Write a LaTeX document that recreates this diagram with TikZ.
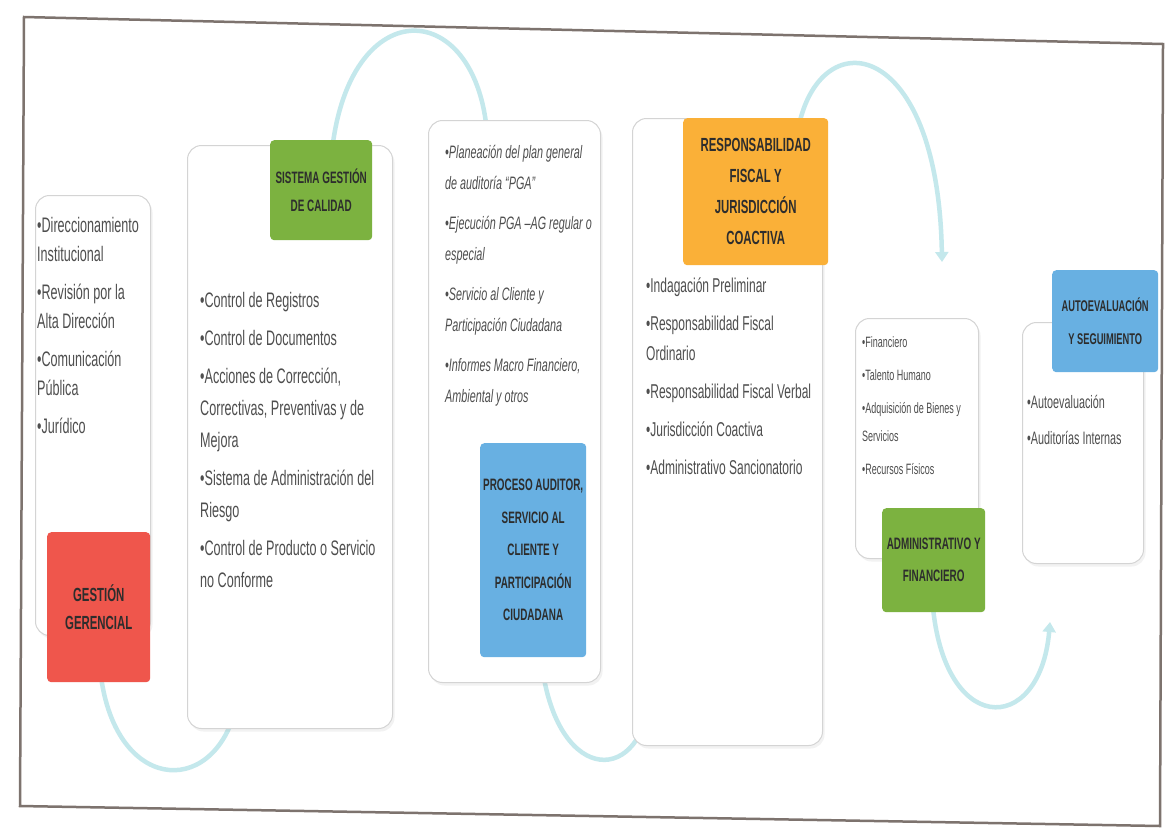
\documentclass[tikz,border=0pt]{standalone}
\usepackage{fontspec}
\usepackage{xcolor}
\usepackage{tikz}
\usetikzlibrary{arrows.meta,shadows}

\newfontfamily\narrowfont[FakeStretch=0.6]{Liberation Sans}

\definecolor{wavecyan}{RGB}{196,232,236}
\definecolor{framegray}{RGB}{125,115,110}
\definecolor{panelgray}{RGB}{212,212,212}
\definecolor{tagred}{RGB}{239,86,76}
\definecolor{taggreen}{RGB}{124,178,64}
\definecolor{tagblue}{RGB}{104,176,226}
\definecolor{tagorange}{RGB}{250,176,56}
\definecolor{inkgray}{RGB}{78,78,78}
\definecolor{tagink}{RGB}{45,45,45}

\tikzset{
  panel/.style={draw=panelgray, fill=white, line width=1pt, rounded corners=14pt,
    anchor=north west, inner sep=0pt,
    drop shadow={opacity=0.10, shadow xshift=2pt, shadow yshift=-3pt}},
  tagbox/.style={fill=#1, rounded corners=4pt, anchor=north west, inner sep=2pt,
    align=center, text=tagink, font=\narrowfont\bfseries\fontsize{16.5}{30}\selectfont},
  items/.style={anchor=north west, inner sep=0pt, align=left, text=inkgray},
  wavepath/.style={draw=wavecyan, line width=4.5pt, line cap=round},
  waveend/.style={wavepath, -{Triangle[width=13pt,length=10pt]}}
}

\begin{document}
\begin{tikzpicture}[x=1pt, y=-1pt]
             \useasboundingbox (0,0) rectangle (1169,831);
             \fill[white] (0,0) rectangle (1169,831);
             \draw[framegray, line width=2.5pt] (24,17) -- (1163,44) -- (1160,826) -- (20,806) -- cycle;

             % wave behind the panels
             \coordinate (w1a) at (100,668);
             \coordinate (w1b) at (238,700);
             \coordinate (w2a) at (330,180);
             \coordinate (w2b) at (488,150);
             \coordinate (w3a) at (540,645);
             \coordinate (w3b) at (650,700);
             \coordinate (w4a) at (795,160);
             \coordinate (w4b) at (942,262);
             \coordinate (w5a) at (932,595);
             \coordinate (w5b) at (1050,622);
             \draw[waveend] (w1a) .. controls (112,792) and (212,800) .. (w1b);
             \draw[waveend] (w2a) .. controls (335,-12) and (480,-12) .. (w2b);
             \draw[waveend] (w3a) .. controls (548,778) and (632,790) .. (w3b);
             \draw[waveend] (w4a) .. controls (798,18) and (938,18) .. (w4b);
             \draw[waveend] (w5a) .. controls (940,738) and (1040,738) .. (w5b);

             \node[panel, minimum width=115, minimum height=440] (gerencia) at (35,195) {};
             \node[panel, minimum width=205, minimum height=583] (calidad) at (187,145) {};
             \node[panel, minimum width=172, minimum height=562] (auditor) at (428,120) {};
             \node[panel, minimum width=190, minimum height=627] (fiscal) at (632,118) {};
             \node[panel, minimum width=123, minimum height=240] (admin) at (855,318) {};
             \node[panel, minimum width=121, minimum height=241] (autoeval) at (1022,322) {};

             \node[items, font=\narrowfont\fontsize{21}{29}\selectfont] (lgerencia) at (37,217)
               {•Direccionamiento\\Institucional\\[9pt]•Revisión por la\\Alta Dirección\\[9pt]•Comunicación\\Pública\\[9pt]•Jurídico};
             \node[items, font=\narrowfont\fontsize{21}{32}\selectfont] (lcalidad) at (200,292)
               {•Control de Registros\\[6pt]•Control de Documentos\\[6pt]•Acciones de Corrección,\\Correctivas, Preventivas y de\\Mejora\\[6pt]•Sistema de Administración del\\Riesgo\\[6pt]•Control de Producto o Servicio\\no Conforme};
             \node[items, font=\narrowfont\itshape\fontsize{18}{31}\selectfont] (lauditor) at (445,145)
               {•Planeación del plan general\\de auditoría “PGA”\\[9pt]•Ejecución PGA –AG regular o\\especial\\[9pt]•Servicio al Cliente y\\Participación Ciudadana\\[9pt]•Informes Macro Financiero,\\Ambiental y otros};
             \node[items, font=\narrowfont\fontsize{20}{30}\selectfont] (lfiscal) at (646,278)
               {•Indagación Preliminar\\[8pt]•Responsabilidad Fiscal\\Ordinario\\[8pt]•Responsabilidad Fiscal Verbal\\[8pt]•Jurisdicción Coactiva\\[8pt]•Administrativo Sancionatorio};
             \node[items, font=\narrowfont\fontsize{15}{28}\selectfont] (ladmin) at (862,336)
               {•Financiero\\[5pt]•Talento Humano\\[5pt]•Adquisición de Bienes y\\Servicios\\[5pt]•Recursos Físicos};
             \node[items, font=\narrowfont\fontsize{18}{36}\selectfont] (lautoeval) at (1027,395)
               {•Autoevaluación\\•Auditorías Internas};

             \node[tagbox=tagred, minimum width=103, minimum height=150,
               font=\narrowfont\bfseries\fontsize{19}{28}\selectfont] (tgerencia) at (47,532) {GESTIÓN\\GERENCIAL};
             \node[tagbox=taggreen, minimum width=102, minimum height=100,
               font=\narrowfont\bfseries\fontsize{16.5}{28}\selectfont] (tcalidad) at (270,140) {SISTEMA GESTIÓN\\DE CALIDAD};
             \node[tagbox=tagblue, minimum width=106, minimum height=214,
               font=\narrowfont\bfseries\fontsize{16.5}{32.5}\selectfont] (tauditor) at (480,443)
               {PROCESO AUDITOR,\\SERVICIO AL\\CLIENTE Y\\PARTICIPACIÓN\\CIUDADANA};
             \node[tagbox=tagorange, minimum width=145, minimum height=147,
               font=\narrowfont\bfseries\fontsize{19}{31}\selectfont] (tfiscal) at (683,118)
               {RESPONSABILIDAD\\FISCAL Y\\JURISDICCIÓN\\COACTIVA};
             \node[tagbox=taggreen, minimum width=103, minimum height=104,
               font=\narrowfont\bfseries\fontsize{16.5}{32}\selectfont] (tadmin) at (882,508) {ADMINISTRATIVO Y\\FINANCIERO};
             \node[tagbox=tagblue, minimum width=106, minimum height=102,
               font=\narrowfont\bfseries\fontsize{15.5}{33}\selectfont] (tautoeval) at (1052,270) {AUTOEVALUACIÓN\\Y SEGUIMIENTO};
\end{tikzpicture}
\end{document}
